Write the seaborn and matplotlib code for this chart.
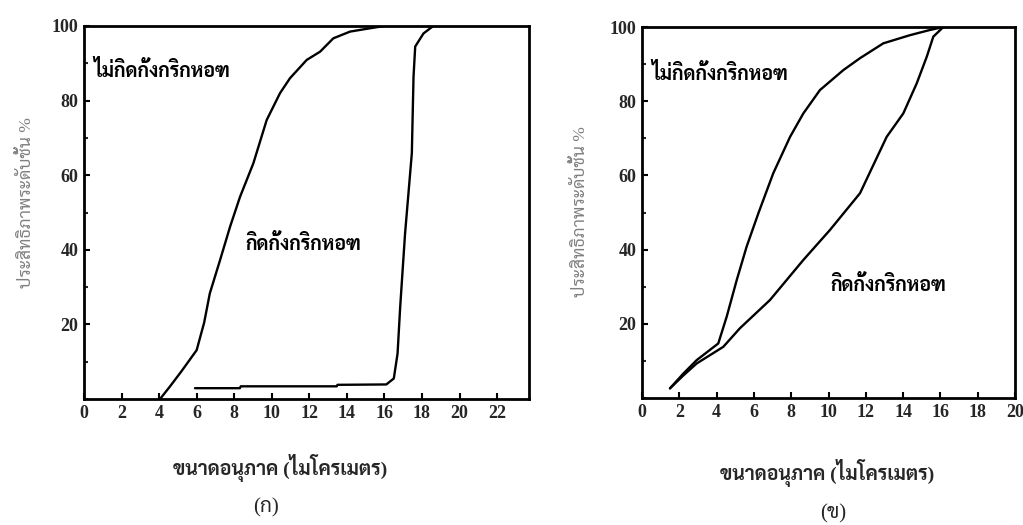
import matplotlib
matplotlib.use("Agg")
import matplotlib.pyplot as plt
from matplotlib import font_manager as fm
from matplotlib.ticker import MultipleLocator
import seaborn as sns
import pandas as pd

# ---------------- data ----------------
# panel (ก)
a_free_x = [4.05, 4.6, 5.2, 6.0, 6.4, 6.7, 7.25, 7.78, 8.31, 9.02, 9.73, 10.44, 10.97, 11.86, 12.57, 13.28, 14.17, 15.24, 16.0]
a_free_y = [0.0, 3.5, 7.5, 13.1, 20.5, 28.3, 37.3, 46.2, 54.2, 63.2, 74.8, 82.0, 86.0, 90.9, 93.1, 96.7, 98.5, 99.4, 100.0]
a_hind_x = [5.91, 8.3, 8.35, 13.46, 13.5, 16.1, 16.5, 16.7, 16.84, 17.1, 17.46, 17.55, 17.64, 18.08, 18.6]
a_hind_y = [2.9, 2.9, 3.4, 3.4, 3.8, 3.9, 5.5, 12.2, 24.7, 44.4, 65.9, 86.4, 94.5, 98.0, 100.0]
# panel (ข)
b_free_x = [1.5, 2.2, 2.93, 4.09, 4.54, 5.08, 5.61, 6.24, 7.04, 7.94, 8.65, 9.54, 10.8, 11.69, 12.94, 14.37, 15.44, 16.16]
b_free_y = [2.6, 6.5, 10.2, 14.7, 21.9, 31.8, 40.8, 49.8, 60.6, 70.4, 76.7, 83.0, 88.4, 91.6, 95.6, 97.8, 99.2, 100.0]
b_hind_x = [1.5, 2.2, 2.93, 4.36, 5.25, 6.86, 8.65, 10.08, 11.69, 13.12, 14.01, 14.73, 15.27, 15.62, 16.16]
b_hind_y = [2.6, 6.0, 9.3, 13.8, 18.8, 26.4, 37.2, 45.3, 55.2, 70.4, 76.7, 84.8, 92.0, 97.4, 100.0]

a_xticks = [0, 2, 4, 6, 8, 10, 12, 14, 16, 18, 20, 22]
b_xticks = [0, 2, 4, 6, 8, 10, 12, 14, 16, 18, 20]
yticks = [20, 40, 60, 80, 100]

label_free = "ไม่กิดกั้งกริกหอฑ"
label_hind = "กิดกั้งกริกหอฑ"
ylabel = "ประสิทธิภาพระดับชั้น %"
xlabel = "ขนาดอนุภาค (ไมโครเมตร)"
captions = ["(ก)", "(ข)"]

# ---------------- fonts ----------------
sns.set_theme(style="white")
names = {f.name for f in fm.fontManager.ttflist}
thai = None
for cand in ["Sarabun", "Noto Sans Thai Looped", "Bai Jamjuree", "Chakra Petch",
             "Noto Sans Thai", "Athiti", "Anuphan", "Noto Serif Thai"]:
    if cand in names:
        thai = cand
        break
fam = ["Liberation Serif"] + ([thai] if thai else []) + ["DejaVu Sans"]
plt.rcParams["font.family"] = fam

fig = plt.figure(figsize=(10.23, 5.25), dpi=100)
W, H = 1023, 525
ax1 = fig.add_axes([84 / W, 1 - 399 / H, (529 - 84) / W, (399 - 26) / H])
ax2 = fig.add_axes([642 / W, 1 - 398 / H, (1015 - 642) / W, (398 - 27) / H])


def draw(ax, fx, fy, hx, hy, xmax, xticks):
    df1 = pd.DataFrame({"x": fx, "y": fy})
    df2 = pd.DataFrame({"x": hx, "y": hy})
    sns.lineplot(data=df1, x="x", y="y", ax=ax, sort=False, color="black", lw=1.7, estimator=None)
    sns.lineplot(data=df2, x="x", y="y", ax=ax, sort=False, color="black", lw=1.7, estimator=None)
    ax.set_xlim(0, xmax)
    ax.set_ylim(0, 100)
    ax.set_xticks(xticks)
    ax.set_xticklabels([str(t) for t in xticks])
    ax.set_yticks(yticks)
    ax.set_yticklabels([str(t) for t in yticks])
    ax.yaxis.set_minor_locator(MultipleLocator(10))
    ax.set_xlabel("")
    ax.set_ylabel("")
    for s in ax.spines.values():
        s.set_visible(True)
        s.set_color("black")
        s.set_linewidth(2)
    ax.tick_params(axis="both", which="major", direction="in", length=4, width=1.5,
                   color="black", labelsize=13, pad=4)
    ax.tick_params(axis="y", which="minor", direction="in", length=3, width=1.5, left=True)
    ax.tick_params(axis="x", which="both", bottom=True)
    ax.tick_params(axis="y", which="major", left=True)
    for lab in ax.get_xticklabels() + ax.get_yticklabels():
        lab.set_fontweight("bold")
    ax.grid(False)


draw(ax1, a_free_x, a_free_y, a_hind_x, a_hind_y, 23.7, a_xticks)
draw(ax2, b_free_x, b_free_y, b_hind_x, b_hind_y, 20, b_xticks)

tkw = dict(fontsize=14, fontweight="bold", color="black", va="center", ha="left")
ax1.text(0.5, 88, label_free, **tkw)
ax1.text(8.6, 41.5, label_hind, **tkw)
ax2.text(0.5, 87.5, label_free, **tkw)
ax2.text(10.1, 30.5, label_hind, **tkw)

fig.text(27 / W, 1 - 203 / H, ylabel, rotation=90, ha="center", va="center", fontsize=12.5, color="#808080")
fig.text(581 / W, 1 - 212 / H, ylabel, rotation=90, ha="center", va="center", fontsize=12.5, color="#808080")
fig.text(280 / W, 1 - 468 / H, xlabel, ha="center", va="center", fontsize=14, fontweight="bold")
fig.text(827 / W, 1 - 473 / H, xlabel, ha="center", va="center", fontsize=14, fontweight="bold")
fig.text(266 / W, 1 - 508 / H, captions[0], ha="center", va="center", fontsize=15)
fig.text(833 / W, 1 - 514 / H, captions[1], ha="center", va="center", fontsize=15)

fig.savefig("out.png", dpi=100)
